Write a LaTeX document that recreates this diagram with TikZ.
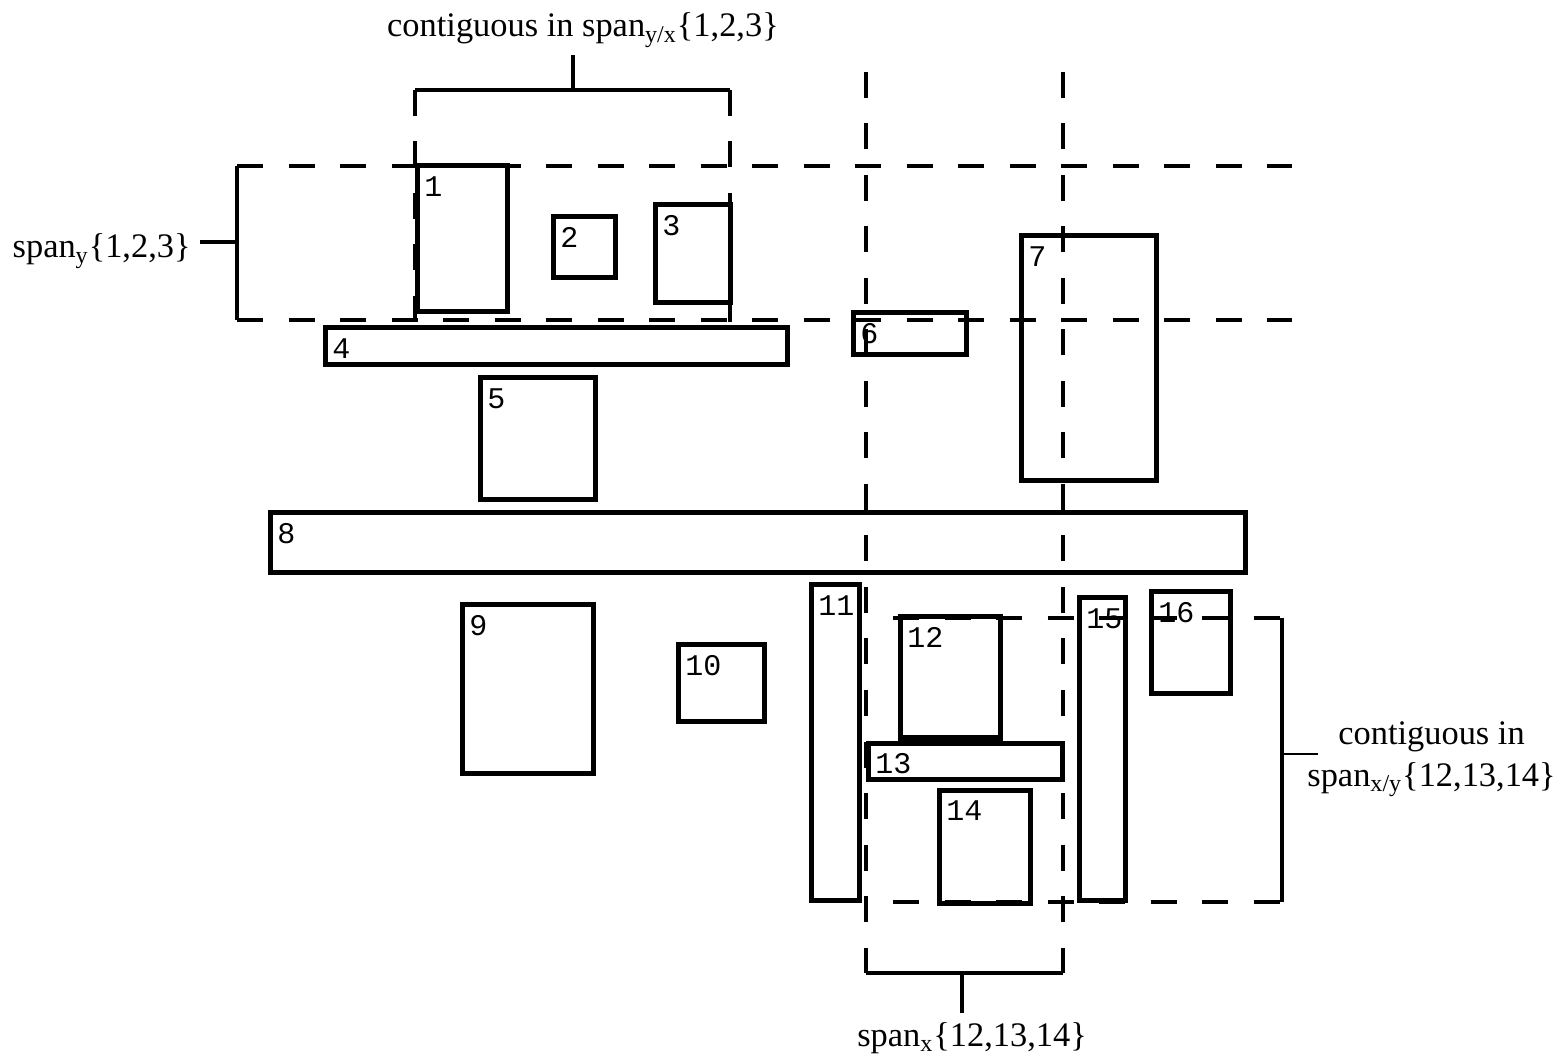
\documentclass[tikz,border=0pt]{standalone}
\usepackage{fontspec}
\setmainfont{Liberation Serif}
\newfontfamily\numfont{Liberation Mono}
\newcommand\bbox[5]{%
  \draw[boxst] (#1,#2) rectangle (#3,#4);
  \node[num] (n#5) at (#1+7,#2+10) {#5};}
\begin{document}
\begin{tikzpicture}[x=0.5pt,y=-0.5pt,
  boxst/.style={line width=2.5pt},
  dashst/.style={line width=2.3pt, dash pattern=on 13pt off 12.75pt},
  brk/.style={line width=2.2pt},
  thin tick/.style={line width=1pt},
  num/.style={font=\numfont\fontsize{15}{15}\selectfont, anchor=north west, inner sep=0pt},
  lbl/.style={font=\fontsize{17.2}{21}\selectfont, inner sep=0pt}]
\useasboundingbox (0,0) rectangle (1564,1058);

% dashed span lines
\draw[dashst] (237,166) -- (1292,166);
\draw[dashst] (237,320) -- (1292,320);
\draw[dashst] (415,90) -- (415,322);
\draw[dashst] (730,90) -- (730,322);
\draw[dashst] (866,72) -- (866,973);
\draw[dashst] (1063,72) -- (1063,973);
\draw[dashst] (893,618) -- (1282,618);
\draw[dashst] (893,902) -- (1282,902);

% boxes
\bbox{417}{166}{507}{312}{1}
\bbox{553}{217}{615}{278}{2}
\bbox{655}{205}{730}{303}{3}
\bbox{325}{328}{787}{365}{4}
\bbox{480}{378}{595}{500}{5}
\bbox{853}{313}{966}{355}{6}
\bbox{1021}{236}{1156}{481}{7}
\bbox{270}{513}{1245}{573}{8}
\bbox{462}{605}{593}{773}{9}
\bbox{678}{645}{764}{722}{10}
\bbox{811}{585}{859}{900}{11}
\bbox{900}{617}{1000}{738}{12}
\bbox{868}{743}{1062}{779}{13}
\bbox{939}{790}{1030}{903}{14}
\bbox{1079}{598}{1125}{900}{15}
\bbox{1151}{592}{1230}{694}{16}

% left bracket
\coordinate (lbA) at (237,166);
\coordinate (lbB) at (237,320);
\coordinate (lbT) at (237,242);
\draw[brk] (lbA) -- (lbB);
\node[lbl, anchor=base east] (spany) at (191,258) {span\textsubscript{y}\{1,2,3\}};
\draw[brk] (lbT) -- (200,242);

% top bracket
\coordinate (tbA) at (415,90);
\coordinate (tbB) at (730,90);
\coordinate (tbT) at (573,90);
\draw[brk] (tbA) -- (tbB);
\node[lbl, anchor=base] (contyx) at (583,37) {contiguous in span\textsubscript{y/x}\{1,2,3\}};
\draw[brk] (tbT) -- (573,55);

% bottom bracket
\coordinate (bbA) at (866,973);
\coordinate (bbB) at (1063,973);
\coordinate (bbT) at (962,973);
\draw[brk] (bbA) -- (bbB);
\node[lbl, anchor=base] (spanx) at (972,1046) {span\textsubscript{x}\{12,13,14\}};
\draw[brk] (bbT) -- (962,1013);

% right bracket
\coordinate (rbA) at (1282,618);
\coordinate (rbB) at (1282,902);
\coordinate (rbT) at (1282,754);
\draw[brk] (rbA) -- (rbB);
\node[lbl, anchor=west, align=center] (contxy) at (1307,759) {contiguous in\\span\textsubscript{x/y}\{12,13,14\}};
\draw[thin tick] (rbT) -- (1318,754);
\end{tikzpicture}
\end{document}
